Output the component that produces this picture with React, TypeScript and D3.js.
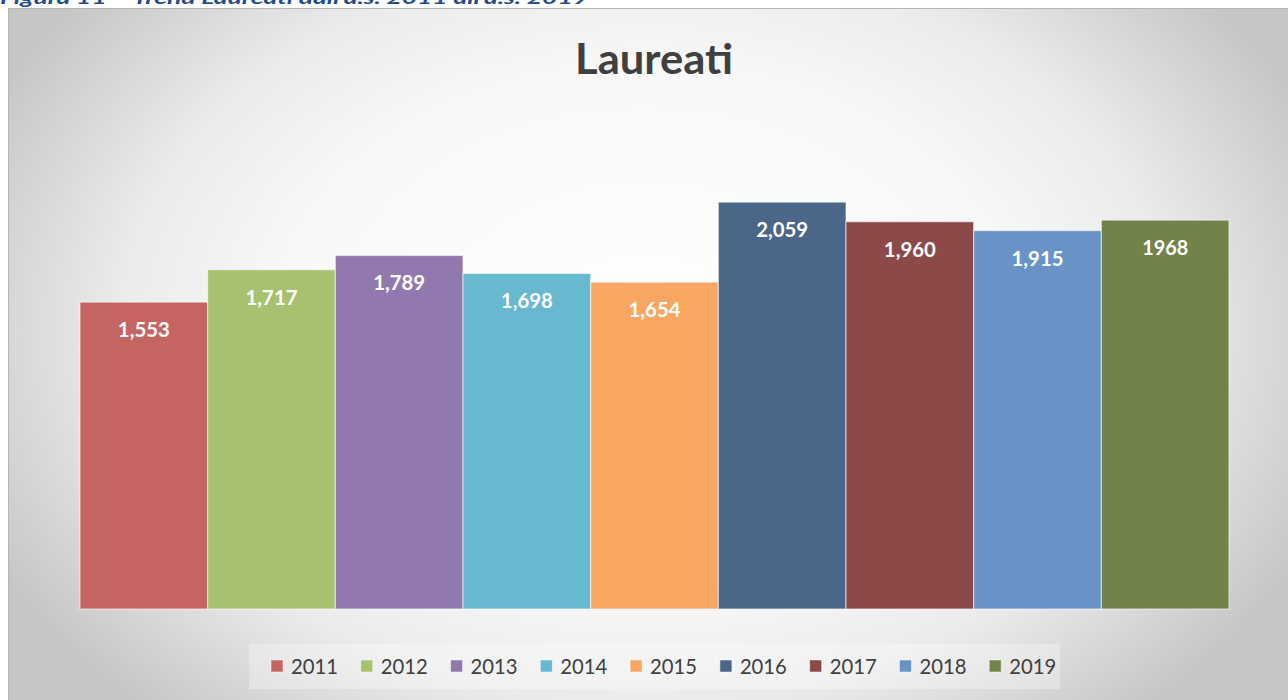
import React, { useEffect } from 'react'
import * as d3 from 'd3'

// Laureati per anno scolastico
const years = ['2011', '2012', '2013', '2014', '2015', '2016', '2017', '2018', '2019']
const laureati = [1553, 1717, 1789, 1698, 1654, 2059, 1960, 1915, 1968]
// labels as printed in the source (last one without the thousands separator)
const valueLabels = ['1,553', '1,717', '1,789', '1,698', '1,654', '2,059', '1,960', '1,915', '1968']
const colors = ['#c56561', '#a6c26e', '#9179b0', '#66b9cf', '#f8a661', '#4a6689', '#8b4a48', '#6793c6', '#728349']

const W = 1288
const H = 700
const font = "Lato, 'Open Sans', sans-serif"

export default function App() {
  useEffect(() => {
    document.body.style.margin = '0'
  }, [])

  const x = d3.scaleBand().domain(years).range([80, 1229]).padding(0)
  const y = d3.scaleLinear().domain([0, 2500]).range([609, 115])

  const legendX = d3.scaleBand().domain(years).range([271, 1079]).padding(0)

  return (
    <svg width={W} height={H} style={{ display: 'block' }}>
      <defs>
        {/* elliptical light spot in the middle of the chart area */}
        <radialGradient id="bg" gradientUnits="userSpaceOnUse" cx={0} cy={0} r={1}
          gradientTransform="translate(645,330) scale(730,520)">
          <stop offset="0" stopColor="#ffffff" />
          <stop offset="0.5" stopColor="#f8f8f8" />
          <stop offset="0.72" stopColor="#ebebeb" />
          <stop offset="1" stopColor="#c6c6c6" />
        </radialGradient>
      </defs>
      <rect x={0} y={0} width={W} height={H} fill="#ffffff" />

      {/* caption, clipped at the top of the page */}
      <text x={0} y={4} fill="#1f4e8c" fontFamily={font} fontSize={17} fontWeight="bold" fontStyle="italic"
        textLength={588} lengthAdjust="spacingAndGlyphs">
        Figura 11 – Trend Laureati dall'a.s. 2011 all'a.s. 2019
      </text>

      <rect x={8.5} y={8.5} width={W} height={H} fill="url(#bg)" stroke="#b5b5b5" strokeWidth={1} />

      <text x={654} y={74} textAnchor="middle" fill="#404040" fontFamily={font} fontSize={42} fontWeight="bold"
        textLength={158} lengthAdjust="spacingAndGlyphs">
        Laureati
      </text>

      {years.map((yr, i) => (
        <g key={yr}>
          <rect x={x(yr)!} y={y(laureati[i])} width={x.bandwidth()} height={y(0) - y(laureati[i])}
            fill={colors[i]} stroke="rgba(255,255,255,0.55)" strokeWidth={1.2} />
          <text x={x(yr)! + x.bandwidth() / 2} y={y(laureati[i]) + 35} textAnchor="middle" fill="#ffffff"
            fontFamily={font} fontSize={21} fontWeight="bold"
            textLength={valueLabels[i].length > 4 ? 52 : 46} lengthAdjust="spacingAndGlyphs">
            {valueLabels[i]}
          </text>
        </g>
      ))}

      <rect x={249} y={644} width={811} height={45} fill="rgba(255,255,255,0.3)" />
      {years.map((yr, i) => (
        <g key={'lg' + yr}>
          <rect x={legendX(yr)!} y={660} width={12} height={12} fill={colors[i]} stroke="rgba(255,255,255,0.5)" />
          <text x={legendX(yr)! + 20} y={674} fill="#404040" fontFamily={font} fontSize={21}
            textLength={47} lengthAdjust="spacingAndGlyphs">
            {yr}
          </text>
        </g>
      ))}
    </svg>
  )
}
